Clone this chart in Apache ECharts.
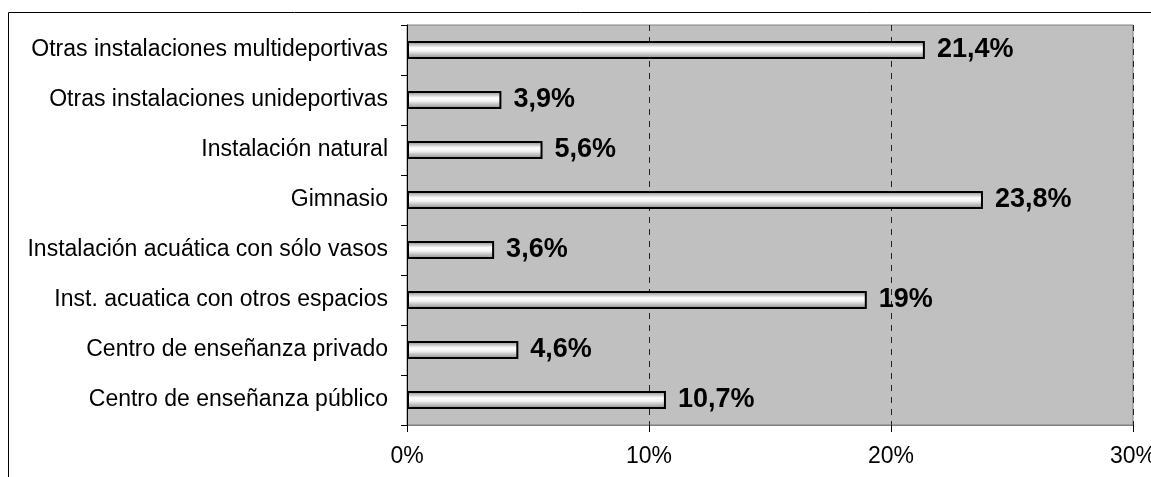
<!DOCTYPE html>
<html>
<head>
<meta charset="utf-8">
<script src="https://cdn.jsdelivr.net/npm/echarts@6/dist/echarts.min.js"></script>
<style>
html,body{margin:0;padding:0;background:#fff;}
#chart{width:1151px;height:477px;}
</style>
</head>
<body>
<div id="chart"></div>
<script>
// Data (bottom to top, as drawn on the category axis)
const categories = [
  "Centro de enseñanza público",
  "Centro de enseñanza privado",
  "Inst. acuatica con otros espacios",
  "Instalación acuática con sólo vasos",
  "Gimnasio",
  "Instalación natural",
  "Otras instalaciones unideportivas",
  "Otras instalaciones multideportivas"
];
const values = [10.7, 4.6, 19, 3.6, 23.8, 5.6, 3.9, 21.4];
const xTicks = [0, 10, 20, 30];

const FONT = '"Liberation Sans", Arial, sans-serif';
const chart = echarts.init(document.getElementById('chart'), null, {renderer: 'canvas'});

const barGradient = new echarts.graphic.LinearGradient(0, 0, 0, 1, [
  {offset: 0, color: '#808080'},
  {offset: 0.12, color: '#a8a8a8'},
  {offset: 0.38, color: '#ffffff'},
  {offset: 0.55, color: '#f4f4f4'},
  {offset: 0.8, color: '#b4b4b4'},
  {offset: 1, color: '#888888'}
]);

chart.setOption({
  animation: false,
  backgroundColor: '#ffffff',
  graphic: [{
    type: 'rect',
    shape: {x: 8.5, y: 12.5, width: 2000, height: 1000},
    style: {fill: 'none', stroke: '#000', lineWidth: 1},
    silent: true,
    z: -1
  }],
  grid: {
    left: 407, right: 18, top: 25, bottom: 52,
    containLabel: false,
    outerBoundsMode: 'none',
    show: true,
    backgroundColor: '#c0c0c0',
    borderColor: '#808080',
    borderWidth: 1
  },
  xAxis: {
    type: 'value',
    min: xTicks[0], max: xTicks[xTicks.length - 1], interval: 10,
    axisLine: {show: true, lineStyle: {color: '#808080', width: 1}},
    axisTick: {show: true, length: 7, lineStyle: {color: '#000'}},
    axisLabel: {
      formatter: v => v + '%',
      fontFamily: FONT, fontSize: 23, color: '#000', margin: 20
    },
    splitLine: {
      show: true,
      lineStyle: {color: '#222', type: [6, 6], width: 1}
    }
  },
  yAxis: {
    type: 'category',
    data: categories,
    axisLine: {show: true, lineStyle: {color: '#000', width: 1}},
    axisTick: {show: true, length: 6, lineStyle: {color: '#000'}},
    axisLabel: {fontFamily: FONT, fontSize: 23, color: '#000', margin: 19},
    splitLine: {show: false}
  },
  series: [{
    type: 'bar',
    data: values,
    barWidth: 18,
    itemStyle: {color: barGradient, borderColor: '#000', borderWidth: 2},
    label: {
      show: true,
      position: 'right',
      distance: 12,
      formatter: p => String(p.value).replace('.', ',') + '%',
      fontFamily: FONT, fontSize: 27, fontWeight: 'bold', color: '#000'
    }
  }]
});
</script>
</body>
</html>
